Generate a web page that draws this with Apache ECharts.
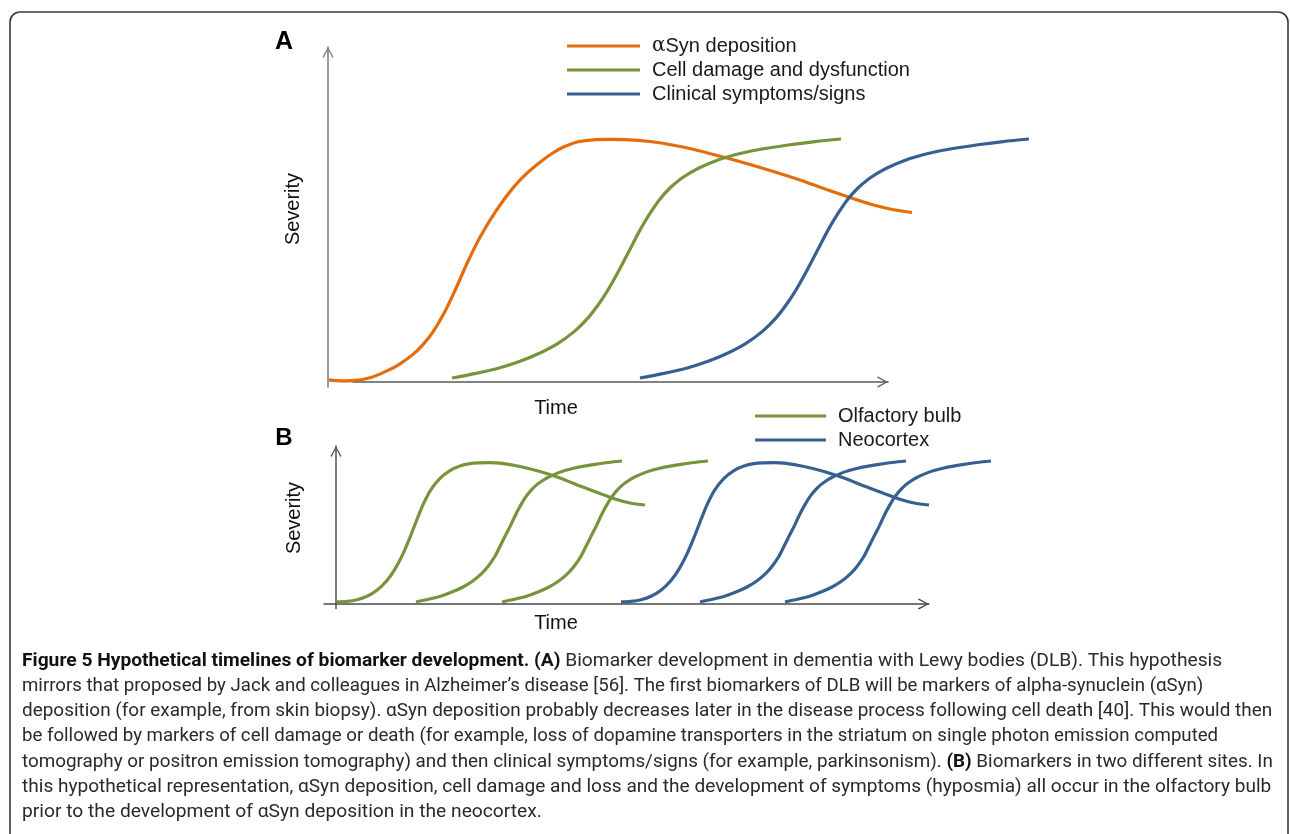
<!DOCTYPE html>
<html><head><meta charset="utf-8">
<script src="https://cdn.jsdelivr.net/npm/echarts@6/dist/echarts.min.js"></script>
<style>html,body{margin:0;padding:0;background:#fff}#chart{width:1290px;height:834px}</style>
</head><body><div id="chart"></div>
<script>
// ---------- Panel A data (time, severity) ----------
const namesA = ['αSyn deposition', 'Cell damage and dysfunction', 'Clinical symptoms/signs'];
const aSynA = [[0.18,0.60],[2.3,0.33],[4.46,0.39],[7.5,1.28],[10.54,3.31],[12.86,5.43],[15.18,8.24],[16.96,11.16],[18.75,14.96],[20.89,21.04],[22.68,27.31],[24.82,35.37],[27.14,43.22],[30.0,51.10],[33.04,57.94],[35.54,62.33],[37.86,65.61],[40.0,68.21],[41.96,70.09],[44.64,71.70],[47.32,72.30],[50.36,72.42],[53.04,72.36],[57.5,71.79],[61.96,70.60],[66.43,68.96],[70.89,67.01],[75.36,64.93],[79.82,62.69],[84.29,60.30],[88.75,57.61],[93.21,55.07],[96.79,53.13],[100.36,51.64],[104.29,50.60]];
const cellA = [[22.14,1.19],[26.43,2.57],[30.71,4.24],[34.29,6.18],[37.86,8.66],[41.07,11.52],[44.11,15.25],[46.43,19.13],[48.57,23.79],[50.36,28.51],[52.14,33.88],[53.93,39.61],[55.71,45.34],[57.5,50.30],[59.29,54.63],[61.07,57.91],[62.86,60.45],[64.64,62.39],[66.43,64.03],[69.64,66.27],[72.68,67.82],[75.36,68.87],[78.93,69.91],[82.5,70.81],[86.96,71.76],[91.61,72.54]];
const clinicalA = [[55.71,1.19],[60.0,2.57],[64.29,4.24],[67.86,6.18],[71.43,8.66],[74.64,11.52],[77.68,15.25],[80.0,19.13],[82.14,23.79],[83.93,28.51],[85.71,33.88],[87.5,39.61],[89.29,45.34],[91.07,50.30],[92.86,54.63],[94.64,57.91],[96.43,60.45],[98.21,62.39],[100.0,64.03],[103.21,66.27],[106.25,67.82],[108.93,68.87],[112.5,69.91],[116.07,70.81],[120.54,71.76],[125.18,72.54]];

// ---------- Panel B data (time, severity) ----------
const namesB = ['Olfactory bulb', 'Neocortex'];
const olfAsyn = [[0.17,1.27],[1.85,1.58],[3.54,2.66],[5.23,4.87],[6.91,8.67],[8.60,14.87],[9.95,22.09],[11.30,31.71],[12.48,42.09],[13.66,53.48],[14.84,64.11],[16.02,72.41],[17.54,79.56],[19.22,84.43],[20.91,87.34],[22.60,88.80],[24.28,89.30],[25.97,89.49],[27.66,89.11],[31.03,87.03],[34.40,83.86],[37.77,79.75],[41.15,74.68],[44.52,69.94],[47.05,66.46],[49.58,63.92],[52.11,62.66]];
const olfDamage = [[13.49,1.27],[15.63,2.97],[17.77,5.06],[19.56,7.53],[21.35,10.57],[22.95,14.18],[24.47,18.86],[25.63,23.73],[26.71,29.56],[27.61,36.08],[28.50,42.78],[29.39,49.30],[30.29,56.52],[31.18,62.72],[32.07,68.10],[32.97,72.22],[33.84,75.38],[34.74,77.85],[35.63,79.87],[37.25,82.66],[38.77,84.62],[40.10,85.95],[41.89,87.22],[43.68,88.35],[45.90,89.56],[48.23,90.51]];
const olfSymptoms = [[27.99,1.27],[30.13,2.97],[32.27,5.06],[34.06,7.53],[35.85,10.57],[37.45,14.18],[38.97,18.86],[40.13,23.73],[41.21,29.56],[42.11,36.08],[43.0,42.78],[43.89,49.30],[44.79,56.52],[45.68,62.72],[46.57,68.10],[47.47,72.22],[48.34,75.38],[49.24,77.85],[50.13,79.87],[51.75,82.66],[53.27,84.62],[54.6,85.95],[56.39,87.22],[58.18,88.35],[60.4,89.56],[62.73,90.51]];
const neoAsyn = [[48.07,1.27],[49.75,1.58],[51.44,2.66],[53.13,4.87],[54.81,8.67],[56.5,14.87],[57.85,22.09],[59.2,31.71],[60.38,42.09],[61.56,53.48],[62.74,64.11],[63.92,72.41],[65.44,79.56],[67.12,84.43],[68.81,87.34],[70.5,88.80],[72.18,89.30],[73.87,89.49],[75.56,89.11],[78.93,87.03],[82.3,83.86],[85.67,79.75],[89.05,74.68],[92.42,69.94],[94.95,66.46],[97.48,63.92],[100.01,62.66]];
const neoDamage = [[61.38,1.27],[63.52,2.97],[65.66,5.06],[67.45,7.53],[69.24,10.57],[70.84,14.18],[72.36,18.86],[73.52,23.73],[74.6,29.56],[75.5,36.08],[76.39,42.78],[77.28,49.30],[78.18,56.52],[79.07,62.72],[79.96,68.10],[80.86,72.22],[81.73,75.38],[82.63,77.85],[83.52,79.87],[85.14,82.66],[86.66,84.62],[87.99,85.95],[89.78,87.22],[91.57,88.35],[93.79,89.56],[96.12,90.51]];
const neoSymptoms = [[75.72,1.27],[77.86,2.97],[80.0,5.06],[81.79,7.53],[83.58,10.57],[85.18,14.18],[86.70,18.86],[87.86,23.73],[88.94,29.56],[89.84,36.08],[90.73,42.78],[91.62,49.30],[92.52,56.52],[93.41,62.72],[94.30,68.10],[95.20,72.22],[96.07,75.38],[96.97,77.85],[97.86,79.87],[99.48,82.66],[101.0,84.62],[102.33,85.95],[104.12,87.22],[105.91,88.35],[108.13,89.56],[110.46,90.51]];

// ---------- Text ----------
const panelLabels = ['A', 'B'];
const axisTitles = ['Severity', 'Time'];
const captionLines = [
  '{b|Figure 5 Hypothetical timelines of biomarker development. (A)} Biomarker development in dementia with Lewy bodies (DLB). This hypothesis',
  'mirrors that proposed by Jack and colleagues in Alzheimer’s disease [56]. The first biomarkers of DLB will be markers of alpha-synuclein (αSyn)',
  'deposition (for example, from skin biopsy). αSyn deposition probably decreases later in the disease process following cell death [40]. This would then',
  'be followed by markers of cell damage or death (for example, loss of dopamine transporters in the striatum on single photon emission computed',
  'tomography or positron emission tomography) and then clinical symptoms/signs (for example, parkinsonism). {b|(B)} Biomarkers in two different sites. In',
  'this hypothetical representation, αSyn deposition, cell damage and loss and the development of symptoms (hyposmia) all occur in the olfactory bulb',
  'prior to the development of αSyn deposition in the neocortex.'
];

const ORANGE = '#E46C0A', GREEN = '#77933C', BLUE = '#376092';
const LABEL_FONT = '"Liberation Sans", Arial, sans-serif';
const CAP_FONT = 'Roboto, "Open Sans", sans-serif';
const chevron = 'path://M0,9 L5,0 L10,9 L9,10 L5,2.2 L1,10 Z';

// caption layout: measured line widths in the reference (px), used to fit the font size
const capTargets = [1253, 1178, 1251, 1161, 1252, 1250, 538];
const ctx = document.createElement('canvas').getContext('2d');
function measure(line, size) {
  let w = 0;
  line.split(/(\{b\|[^}]*\})/).forEach(function (seg) {
    if (!seg) return;
    const m = seg.match(/^\{b\|([^}]*)\}$/);
    ctx.font = (m ? 'bold ' : '') + size + 'px ' + CAP_FONT;
    w += ctx.measureText(m ? m[1] : seg).width;
  });
  return w;
}
let ratioSum = 0;
for (let i = 0; i < 6; i++) ratioSum += capTargets[i] / measure(captionLines[i], 100);
const baseCap = 100 * ratioSum / 6;
const capSizes = captionLines.map(function (l, i) {
  const s = capTargets[i] / measure(l, 100) * 100;
  return Math.max(baseCap * 0.985, Math.min(baseCap * 1.015, s));
});

function axisLine(color) {
  return { show: true, symbol: ['none', chevron], symbolSize: [12, 11], symbolOffset: [0, -5.5],
           lineStyle: { color: color, width: 1.6 } };
}
const hidden = { axisTick: { show: false }, axisLabel: { show: false }, splitLine: { show: false } };

function lineSeries(name, data, color, xi) {
  return { type: 'line', name: name, data: data, xAxisIndex: xi, yAxisIndex: xi,
           smooth: 0.3, showSymbol: false, clip: false, silent: true,
           lineStyle: { color: color, width: 3.2, cap: 'butt', join: 'round' }, itemStyle: { color: color } };
}

const legendText = { fontSize: 20, fontFamily: LABEL_FONT, color: '#1a1a1a', lineHeight: 24, padding: [0, 0, 0, 7],
                     rich: { g: { fontFamily: '"DejaVu Serif", serif', fontSize: 20, lineHeight: 24 } } };

const graphics = [
  { type: 'rect', shape: { x: 10, y: 12, width: 1278, height: 900, r: 10 }, style: { fill: 'none', stroke: '#3a3a3a', lineWidth: 1.6 }, silent: true },
  { type: 'text', x: 284, y: 42, style: { text: panelLabels[0], font: 'bold 25px ' + LABEL_FONT, fill: '#000', align: 'center', verticalAlign: 'middle' } },
  { type: 'text', x: 284, y: 438, style: { text: panelLabels[1], font: 'bold 24px ' + LABEL_FONT, fill: '#000', align: 'center', verticalAlign: 'middle' } },
  { type: 'text', x: 293, y: 209, rotation: Math.PI / 2, style: { text: axisTitles[0], font: '20px ' + LABEL_FONT, fill: '#111', align: 'center', verticalAlign: 'middle' } },
  { type: 'text', x: 556, y: 408, style: { text: axisTitles[1], font: '20px ' + LABEL_FONT, fill: '#111', align: 'center', verticalAlign: 'middle' } },
  { type: 'text', x: 294, y: 518, rotation: Math.PI / 2, style: { text: axisTitles[0], font: '20px ' + LABEL_FONT, fill: '#111', align: 'center', verticalAlign: 'middle' } },
  { type: 'text', x: 556, y: 623, style: { text: axisTitles[1], font: '20px ' + LABEL_FONT, fill: '#111', align: 'center', verticalAlign: 'middle' } }
];
captionLines.forEach(function (t, i) {
  graphics.push({ type: 'text', x: 22, y: 661 + 25.2 * i,
    style: { text: t, fontFamily: CAP_FONT, fontSize: capSizes[i], fill: '#2a2a2a', verticalAlign: 'middle', align: 'left',
             rich: { b: { fontWeight: 'bold', fontFamily: CAP_FONT, fontSize: capSizes[i], fill: '#111' } } } });
});

// Grids 0/1: visible axes (arrows). Grids 2/3: same scales, wider, carry the curves.
const pxA = 5.6, pxB = 5.93;
const option = {
  backgroundColor: '#fff',
  animation: false,
  grid: [
    { left: 328 + 4.5 * pxA, top: 47, width: 95.5 * pxA, height: 340, outerBoundsMode: 'none' },
    { left: 324.1, top: 446, width: 102 * pxB, height: 162.7, outerBoundsMode: 'none' },
    { left: 328, top: 47, width: 130 * pxA, height: 340, outerBoundsMode: 'none' },
    { left: 324.1, top: 446, width: 117 * pxB, height: 162.7, outerBoundsMode: 'none' }
  ],
  xAxis: [
    Object.assign({ type: 'value', gridIndex: 0, min: 4.5, max: 100, axisLine: Object.assign(axisLine('#5a5a5a'), { onZero: true }) }, hidden),
    Object.assign({ type: 'value', gridIndex: 1, min: -2, max: 100, axisLine: Object.assign(axisLine('#4a4a4a'), { onZero: true }) }, hidden),
    { type: 'value', gridIndex: 2, min: 0, max: 130, show: false },
    { type: 'value', gridIndex: 3, min: -2, max: 115, show: false }
  ],
  yAxis: [
    Object.assign({ type: 'value', gridIndex: 0, min: -1.5, max: 100, offset: 4.5 * pxA, axisLine: Object.assign(axisLine('#7f7f7f'), { onZero: false }) }, hidden),
    Object.assign({ type: 'value', gridIndex: 1, min: -3, max: 100, axisLine: Object.assign(axisLine('#5a5a5a'), { onZero: true }) }, hidden),
    { type: 'value', gridIndex: 2, min: -1.5, max: 100, show: false },
    { type: 'value', gridIndex: 3, min: -3, max: 100, show: false }
  ],
  legend: [
    { data: namesA, orient: 'vertical', left: 567, top: 34, padding: 0, itemGap: 0, itemWidth: 73, itemHeight: 3, icon: 'rect',
      selectedMode: false, textStyle: legendText, itemStyle: { borderWidth: 0 },
      formatter: function (n) { return n.charAt(0) === 'α' ? '{g|α}' + n.slice(1) : n; } },
    { data: namesB, orient: 'vertical', left: 755, top: 404, padding: 0, itemGap: 0, itemWidth: 71, itemHeight: 3, icon: 'rect',
      selectedMode: false, textStyle: legendText, itemStyle: { borderWidth: 0 } }
  ],
  graphic: graphics,
  series: [
    lineSeries(namesA[0], aSynA, ORANGE, 2),
    lineSeries(namesA[1], cellA, GREEN, 2),
    lineSeries(namesA[2], clinicalA, BLUE, 2),
    lineSeries(namesB[0], olfAsyn, GREEN, 3),
    lineSeries(namesB[0], olfDamage, GREEN, 3),
    lineSeries(namesB[0], olfSymptoms, GREEN, 3),
    lineSeries(namesB[1], neoAsyn, BLUE, 3),
    lineSeries(namesB[1], neoDamage, BLUE, 3),
    lineSeries(namesB[1], neoSymptoms, BLUE, 3)
  ]
};
const chart = echarts.init(document.getElementById('chart'), null, { renderer: 'canvas' });
chart.setOption(option);
</script></body></html>
